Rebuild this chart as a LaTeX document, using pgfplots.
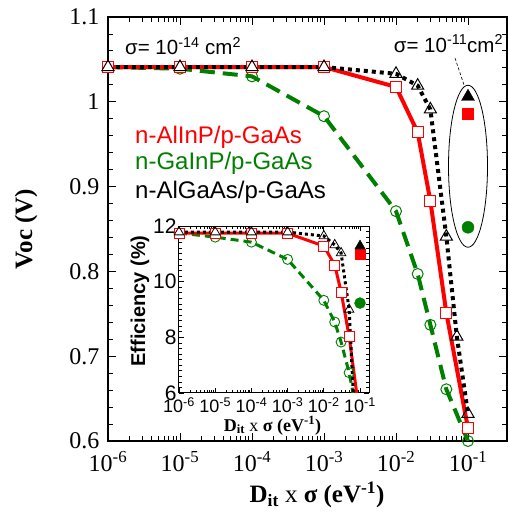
\documentclass[border=0pt]{standalone}
\usepackage{fontspec}
\setmainfont{Liberation Serif}
\setsansfont{Liberation Sans}
\usepackage{pgfplots}
\pgfplotsset{compat=1.18}
\newcommand{\fs}[1]{\fontsize{#1}{#1}\selectfont}
\definecolor{cred}{RGB}{255,0,0}
\definecolor{cgreen}{RGB}{0,128,0}

% Voc versus Dit x sigma (sigma = 1e-14 cm^2)
\pgfplotstableread{
x      alinp  gainp
1e-6   1.041  1.041
1e-5   1.041  1.039
1e-4   1.041  1.030
1e-3   1.041  0.983
1e-2   1.0175 0.871
2e-2   0.964  0.797
3e-2   0.883  0.737
5e-2   0.751  0.661
1e-1   0.615  0.600
}\vocdata
\pgfplotstableread{
x      algaas
1e-6   1.041
1e-5   1.041
1e-4   1.041
1e-3   1.041
1e-2   1.033
2e-2   1.019
3e-2   0.991
5e-2   0.841
7e-2   0.723
1e-1   0.632
}\vocalgaas
% Efficiency versus Dit x sigma
\pgfplotstableread{
x      alinp  gainp
1e-6   11.74  11.75
1e-5   11.74  11.60
1e-4   11.74  11.42
1e-3   11.74  10.80
1e-2   11.28  9.33
2e-2   10.60  8.55
3e-2   9.63   7.83
5e-2   8.04   6.73
1e-1   5.10   4.70
}\effdata
\pgfplotstableread{
x      algaas
1e-6   11.78
1e-5   11.78
1e-4   11.78
1e-3   11.78
1e-2   11.64
2e-2   11.32
3e-2   11.03
5e-2   9.00
7e-2   5.20
1e-1   4.00
}\effalgaas

\begin{document}
\begin{tikzpicture}
\path[use as bounding box] (-108pt,-77pt) rectangle (400pt,441pt);

\begin{axis}[
  name=main,
  at={(0pt,0pt)}, anchor=south west,
  scale only axis, width=399pt, height=424pt,
  xmode=log, xmin=1e-6, xmax=0.348, ymin=0.6, ymax=1.1,
  xtick={1e-6,1e-5,1e-4,1e-3,1e-2,1e-1},
  xticklabels={10\textsuperscript{-6},10\textsuperscript{-5},10\textsuperscript{-4},10\textsuperscript{-3},10\textsuperscript{-2},10\textsuperscript{-1}},
  ytick={0.6,0.7,0.8,0.9,1.0,1.1},
  yticklabels={0.6,0.7,0.8,0.9,1,1.1},
  minor y tick num=4,
  tick align=inside,
  major tick length=8pt, minor tick length=5pt,
  axis line style={line width=1.1pt},
  every tick/.style={black, line width=0.9pt},
  tick label style={font=\rmfamily\fs{24}},
  y tick label style={xshift=-5pt},
  x tick label style={yshift=-7pt},
  xlabel={\fs{25}\bfseries D\textsubscript{it} \mdseries x \bfseries σ (eV\textsuperscript{-1})},
  xlabel style={at={(axis description cs:0.524,-0.146)}, anchor=base},
  ylabel={\fs{25}\bfseries Voc (V)},
  ylabel style={at={(axis description cs:-0.205,0.5)}, anchor=center},
]
% n-GaInP/p-GaAs
\addplot[cgreen, line width=4pt, dash pattern=on 15pt off 8pt,
  mark=o, mark size=5.5pt, mark options={solid, line width=1pt}]
  table[x=x, y=gainp] {\vocdata};
% n-AlInP/p-GaAs
\addplot[cred, line width=4pt,
  mark=square*, mark size=5.5pt, mark options={solid, fill=white, line width=1pt}]
  table[x=x, y=alinp] {\vocdata};
% n-AlGaAs/p-GaAs
\addplot[black, line width=4pt, dash pattern=on 4pt off 4pt,
  mark=triangle, mark size=7pt, mark options={solid, line width=1pt}]
  table[x=x, y=algaas] {\vocalgaas};
% sigma = 1e-11 cm^2
\addplot[only marks, cgreen, mark=*, mark size=6pt] coordinates {(0.1,0.852)};
\addplot[only marks, cred, mark=square*, mark size=5.5pt] coordinates {(0.1,0.986)};
\addplot[only marks, black, mark=triangle*, mark size=7.5pt] coordinates {(0.1,1.006)};

\draw[line width=0.8pt] (axis cs:0.1,0.924) ellipse [x radius=19.5pt, y radius=81pt];
\draw[line width=0.6pt, dash pattern=on 3pt off 2pt] (axis cs:0.066,1.0516) -- (axis cs:0.088,1.02);

\node[anchor=base west, font=\sffamily\fs{20.5}, inner sep=0pt] at (axis cs:1.72e-6,1.0552) {σ= 10\textsuperscript{-14} cm\textsuperscript{2}};
\node[anchor=base west, font=\sffamily\fs{20.5}, inner sep=0pt] at (axis cs:0.0093,1.0587) {σ= 10\textsuperscript{-11}cm\textsuperscript{2}};

\node[anchor=base west, font=\sffamily\fs{24}, inner sep=0pt, text=cred] at (axis cs:2.37e-6,0.9514) {n-AlInP/p-GaAs};
\node[anchor=base west, font=\sffamily\fs{24}, inner sep=0pt, text=cgreen] at (axis cs:2.37e-6,0.9196) {n-GaInP/p-GaAs};
\node[anchor=base west, font=\sffamily\fs{24}, inner sep=0pt, text=black] at (axis cs:2.37e-6,0.8854) {n-AlGaAs/p-GaAs};
\end{axis}

\begin{axis}[
  at={(71pt,48pt)}, anchor=south west,
  scale only axis, width=190pt, height=167pt,
  axis background/.style={fill=white},
  xmode=log, xmin=1e-6, xmax=0.177, ymin=6, ymax=12,
  xtick={1e-6,1e-5,1e-4,1e-3,1e-2,1e-1},
  xticklabels={10\textsuperscript{-6},10\textsuperscript{-5},10\textsuperscript{-4},10\textsuperscript{-3},10\textsuperscript{-2},10\textsuperscript{-1}},
  ytick={6,8,10,12},
  yticklabels={6,8,10,12},
  minor y tick num=9,
  tick align=inside,
  major tick length=5pt, minor tick length=3pt,
  axis line style={line width=1pt},
  every tick/.style={black, line width=0.7pt},
  x tick label style={font=\sffamily\fs{18}, yshift=-1pt},
  y tick label style={font=\sffamily\fs{21}, xshift=1pt},
  xlabel={\fs{18}\bfseries D\textsubscript{it} \mdseries x \bfseries σ (eV\textsuperscript{-1})},
  xlabel style={at={(axis description cs:0.492,-0.228)}, anchor=base},
  ylabel={\sffamily\fs{20}\bfseries Efficiency (\%)},
  ylabel style={at={(axis description cs:-0.205,0.551)}, anchor=center},
]
\addplot[cgreen, line width=3pt, dash pattern=on 8pt off 5pt,
  mark=o, mark size=5pt, mark options={solid, line width=0.9pt}]
  table[x=x, y=gainp] {\effdata};
\addplot[cred, line width=3pt,
  mark=square*, mark size=5pt, mark options={solid, fill=white, line width=0.9pt}]
  table[x=x, y=alinp] {\effdata};
\addplot[black, line width=3pt, dash pattern=on 3pt off 3pt,
  mark=triangle, mark size=5.5pt, mark options={solid, line width=0.8pt}]
  table[x=x, y=algaas] {\effalgaas};
\addplot[only marks, cgreen, mark=*, mark size=5.5pt] coordinates {(0.1,9.23)};
\addplot[only marks, cred, mark=square*, mark size=5pt] coordinates {(0.1,11.0)};
\addplot[only marks, black, mark=triangle*, mark size=6pt] coordinates {(0.1,11.28)};
\end{axis}
\end{tikzpicture}
\end{document}
